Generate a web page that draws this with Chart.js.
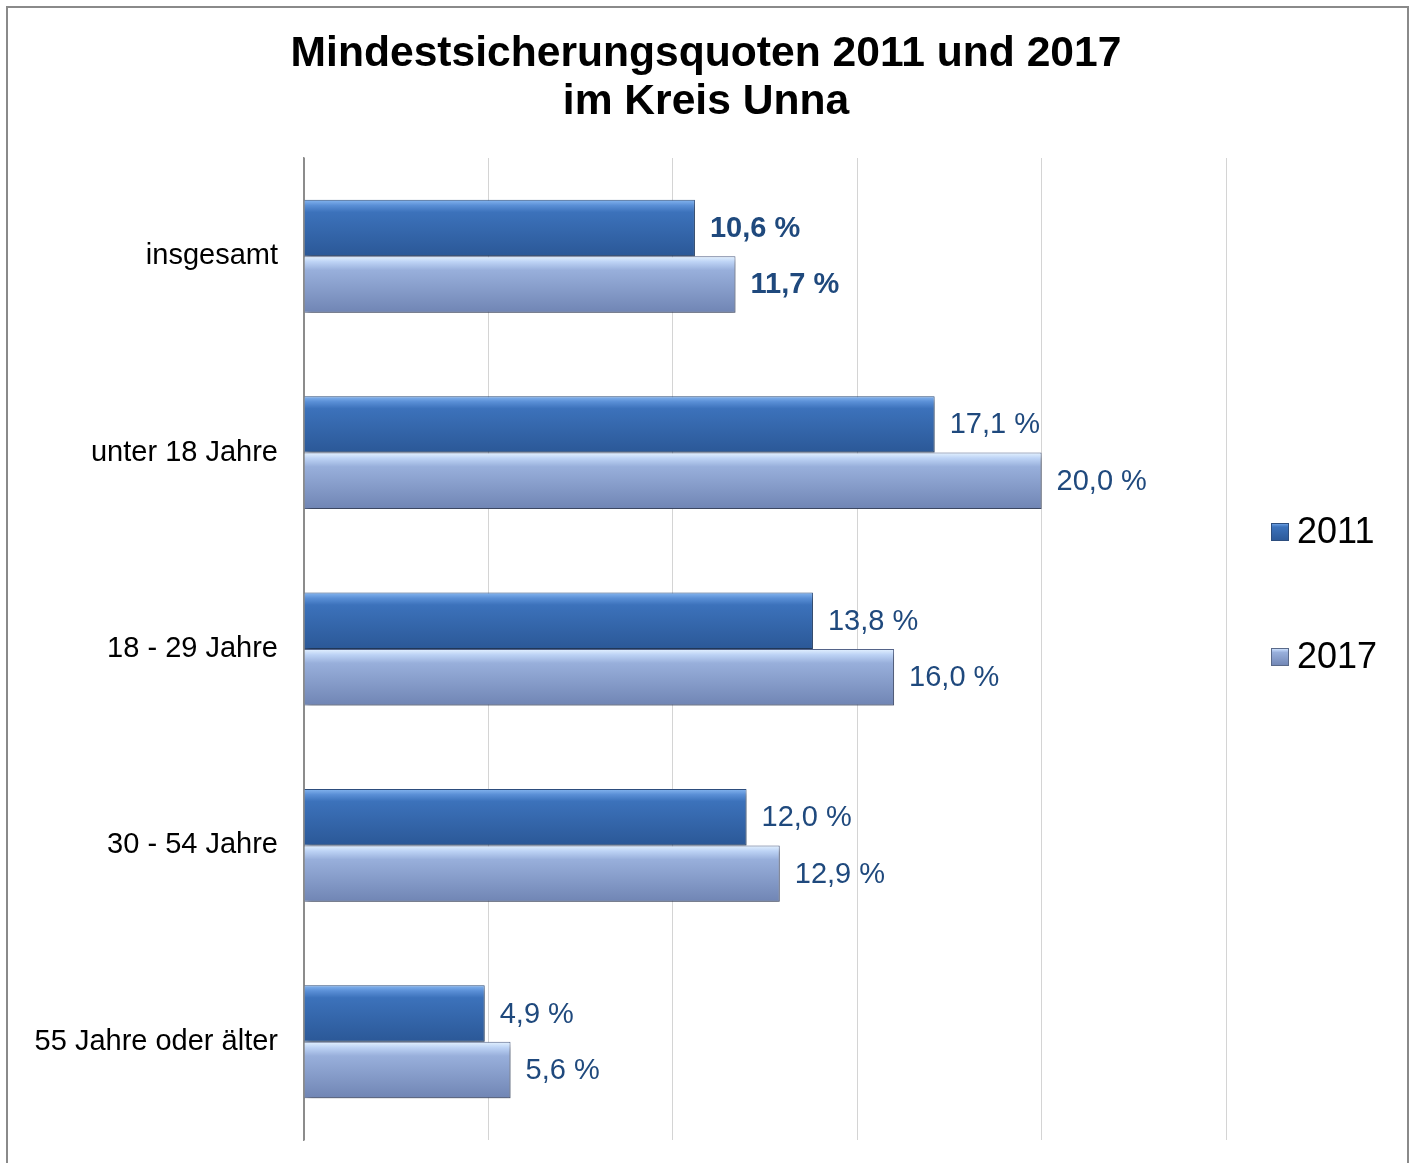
<!DOCTYPE html>
<html>
<head>
<meta charset="utf-8">
<script src="https://cdn.jsdelivr.net/npm/chart.js@4.4.1/dist/chart.umd.min.js"></script>
<style>
  html, body { margin: 0; padding: 0; background: #fff; overflow: hidden; }
  #wrap { position: relative; width: 1412px; height: 1163px; }
  #frame { position: absolute; left: 6px; top: 6px; width: 1403px; height: 1180px; border: 2px solid #8a8a8a; box-sizing: border-box; pointer-events: none; }
  canvas { position: absolute; left: 0; top: 0; }
</style>
</head>
<body>
<div id="wrap">
  <canvas id="chart" width="1412" height="1163"></canvas>
  <div id="frame"></div>
</div>
<script>
// Mindestsicherungsquoten im Kreis Unna
const titleLines = ['Mindestsicherungsquoten 2011 und 2017', 'im Kreis Unna'];
const categories = ['insgesamt', 'unter 18 Jahre', '18 - 29 Jahre', '30 - 54 Jahre', '55 Jahre oder älter'];
const values2011 = [10.6, 17.1, 13.8, 12.0, 4.9];
const values2017 = [11.7, 20.0, 16.0, 12.9, 5.6];
const seriesLabels = ['2011', '2017'];
const xTicks = [0, 5, 10, 15, 20, 25];

const CAT_PCT = 0.575;
const LABEL_COLOR = '#1F497D';
const FONT = '"Liberation Sans", Arial, sans-serif';

const stops = [
    [[0, '#86b6f0'], [0.1, '#5a8fd6'], [0.22, '#3c72bb'], [1, '#2b5897']],
    [[0, '#e4f2ff'], [0.1, '#bdd3f5'], [0.25, '#98afdb'], [1, '#7085b4']]
];

function barGradient(context) {
    const chart = context.chart;
    const area = chart.chartArea;
    const ds = context.datasetIndex;
    const fallback = ds === 0 ? '#3a6fb7' : '#90a7d6';
    if (!area || context.type !== 'data') return fallback;
    const y = chart.scales.y;
    const catH = area.height / categories.length;
    const h = catH * CAT_PCT / 2;
    const center = y.getPixelForValue(context.dataIndex);
    const top = ds === 0 ? center - h : center;
    const g = chart.ctx.createLinearGradient(0, top, 0, top + h);
    stops[ds].forEach(s => g.addColorStop(s[0], s[1]));
    return g;
}

const valueLabels = {
    id: 'valueLabels',
    afterDatasetsDraw(chart) {
        const ctx = chart.ctx;
        ctx.save();
        ctx.fillStyle = LABEL_COLOR;
        ctx.textBaseline = 'middle';
        ctx.textAlign = 'left';
        chart.data.datasets.forEach((ds, di) => {
            chart.getDatasetMeta(di).data.forEach((bar, i) => {
                const bold = i === 0 ? 'bold ' : '';
                ctx.font = bold + '29px ' + FONT;
                const txt = ds.data[i].toFixed(1).replace('.', ',') + ' %';
                ctx.fillText(txt, bar.x + 15, bar.y + 1);
            });
        });
        ctx.restore();
    }
};

const barShadow = {
    id: 'barShadow',
    beforeDatasetsDraw(chart) {
        const ctx = chart.ctx;
        ctx.save();
        ctx.shadowColor = 'rgba(0,0,0,0.35)';
        ctx.shadowBlur = 5;
        ctx.shadowOffsetX = 2;
        ctx.shadowOffsetY = 4;
    },
    afterDatasetsDraw(chart) {
        chart.ctx.restore();
    }
};

// title centred on the whole canvas, legend on the right
const decorations = {
    id: 'decorations',
    afterDraw(chart) {
        const ctx = chart.ctx;
        ctx.save();
        ctx.fillStyle = '#000';
        ctx.font = 'bold 42.6px ' + FONT;
        ctx.textAlign = 'center';
        ctx.textBaseline = 'middle';
        titleLines.forEach((t, i) => ctx.fillText(t, chart.width / 2, 54 + i * 48));

        const rows = [532, 657];
        ctx.textAlign = 'left';
        chart.data.datasets.forEach((ds, i) => {
            const cy = rows[i];
            const g = ctx.createLinearGradient(0, cy - 9, 0, cy + 9);
            stops[i].forEach(s => g.addColorStop(s[0], s[1]));
            ctx.fillStyle = g;
            ctx.fillRect(1271, cy - 9, 18, 18);
            ctx.strokeStyle = i === 0 ? '#2d4e7e' : '#5a6a8a';
            ctx.lineWidth = 1;
            ctx.strokeRect(1271.5, cy - 8.5, 17, 17);
            ctx.fillStyle = '#000';
            ctx.font = '36px ' + FONT;
            ctx.fillText(ds.label, 1297, cy + 1);
        });
        ctx.restore();
    }
};

new Chart(document.getElementById('chart'), {
    type: 'bar',
    data: {
        labels: categories,
        datasets: [
            { label: seriesLabels[0], data: values2011, backgroundColor: barGradient, borderColor: '#2d4e7e', borderWidth: 1, borderSkipped: 'start' },
            { label: seriesLabels[1], data: values2017, backgroundColor: barGradient, borderColor: '#56658a', borderWidth: 1, borderSkipped: 'start' }
        ]
    },
    options: {
        indexAxis: 'y',
        responsive: false,
        animation: false,
        events: [],
        layout: { padding: { left: 0, right: 186, top: 158, bottom: 23 } },
        datasets: { bar: { categoryPercentage: CAT_PCT, barPercentage: 1 } },
        plugins: {
            legend: { display: false },
            tooltip: { enabled: false },
            title: { display: false }
        },
        scales: {
            x: {
                min: xTicks[0],
                max: xTicks[xTicks.length - 1],
                afterBuildTicks: (s) => { s.ticks = xTicks.map(v => ({ value: v })); },
                afterFit: (s) => { s.height = 0; },
                ticks: { display: false },
                border: { display: false },
                grid: { color: (c) => c.index === 0 ? '#8c8c8c' : '#d4d4d4', lineWidth: 1, drawTicks: false }
            },
            y: {
                afterFit: (s) => { s.width = 304; s.paddingTop = 0; s.paddingBottom = 0; },
                grid: { display: false },
                border: { display: true, color: '#8c8c8c', width: 1.5 },
                ticks: {
                    color: '#000',
                    padding: 18,
                    font: { family: FONT, size: 29 }
                }
            }
        }
    },
    plugins: [barShadow, valueLabels, decorations]
});
</script>
</body>
</html>
